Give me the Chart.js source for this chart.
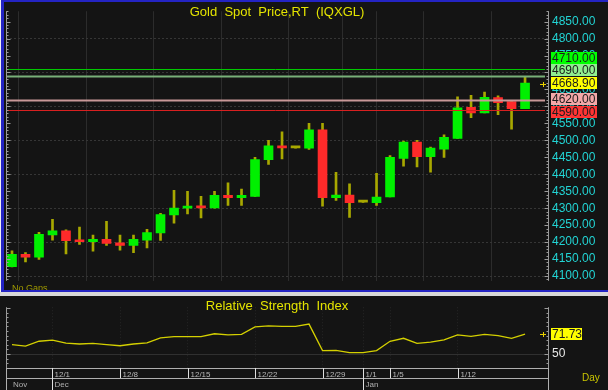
<!DOCTYPE html>
<html>
<head>
<meta charset="utf-8">
<script src="https://cdn.jsdelivr.net/npm/chart.js@4.4.1/dist/chart.umd.min.js"></script>
<style>
body { margin: 0; background: #d8d8d8; }
#wrap { position: relative; width: 608px; height: 390px; overflow: hidden; }
#priceChart { position: absolute; left: 0; top: 0; }
#rsiChart { position: absolute; left: 0; top: 296px; }
</style>
</head>
<body>
<div id="wrap">
    <canvas id="priceChart" width="608" height="292"></canvas>
    <canvas id="rsiChart" width="608" height="94"></canvas>
</div>
<script>
// daily bars, 11/26 .. 1/19
const dates = ['11/26','11/27','11/28','12/1','12/2','12/3','12/4','12/5','12/8','12/9','12/10','12/11','12/12',
    '12/15','12/16','12/17','12/18','12/19','12/22','12/23','12/24','12/25','12/26','12/29','12/30','12/31',
    '1/1','1/2','1/5','1/6','1/7','1/8','1/9','1/12','1/13','1/14','1/15','1/16','1/19'];
const opens  = [4128,4164,4156,4221,4233,4206,4201,4208,4198,4190,4206,4227,4280,4300,4306,4301,4338,4331,4335,4443,
    4484,4478,4477,4531,4331,4339,4318,4316,4333,4447,4495,4452,4474,4506,4597,4581,4626,4614,4593];
const highs  = [4174,4169,4229,4267,4236,4244,4221,4261,4221,4221,4238,4285,4353,4350,4335,4350,4375,4356,4450,4500,
    4525,4479,4550,4550,4406,4372,4319,4403,4455,4498,4500,4480,4516,4628,4633,4642,4631,4617,4686];
const lows   = [4127,4142,4149,4206,4165,4193,4173,4190,4176,4169,4183,4205,4256,4283,4271,4300,4308,4308,4335,4429,
    4445,4477,4473,4306,4323,4273,4317,4308,4333,4424,4422,4406,4450,4506,4567,4581,4576,4533,4593];
const closes = [4164,4156,4223,4233,4204,4201,4208,4196,4190,4208,4228,4281,4300,4306,4301,4338,4331,4338,4443,4484,
    4478,4478,4531,4331,4339,4316,4318,4333,4450,4495,4452,4477,4509,4596,4581,4627,4611,4593,4668.9];
const rsi = [60.2,58.7,63.9,65.2,61.8,60.9,61.5,60.2,59.0,60.9,62.1,67.6,68.9,68.9,68.9,72.0,70.8,71.4,79.4,80.6,
    80.1,80.1,82.5,53.7,54.1,51.6,51.6,53.7,63.9,67.1,61.5,63.0,65.5,70.8,69.2,71.4,70.1,67.1,71.73];

const priceTicks = [4100,4150,4200,4250,4300,4350,4400,4450,4500,4550,4600,4650,4700,4750,4800,4850];
const rsiTicks = [50];
const dateTicks = ['12/1','12/8','12/15','12/22','12/29','1/1','1/5','1/12'];
const months = ['Nov','Dec','Jan'];
const monthStarts = ['11/26','12/1','1/1'];

// horizontal level lines and their price tags
const levels      = [4710, 4690, 4620, 4590];
const levelLines  = ['#00c800', '#78b078', '#c89898', '#d82020'];
const levelBoxes  = ['#00ff00', '#90ee90', '#f4a8a8', '#ff3434'];

const BG = '#141414';
const CYAN = '#22d4d4';
const YELLOW = '#e4e400';
const WICK = '#a8a800';
const FONT = 'Arial, "Liberation Sans", sans-serif';

Chart.defaults.font.family = FONT;

const X_MIN = -0.444, X_MAX = 39.7;

function bodyColor(i) {
    if (closes[i] > opens[i]) return '#00f000';
    if (closes[i] < opens[i]) return '#ff2a2a';
    return WICK;
}

function xTicks(scale) {
    scale.ticks = dateTicks.map(d => ({ value: dates.indexOf(d) }));
}

function ruler(ctx, x, top, bottom, step, bigEvery, scale, from, to) {
    ctx.strokeStyle = '#9a9a9a';
    ctx.lineWidth = 1;
    ctx.beginPath();
    ctx.moveTo(x + 0.5, top);
    ctx.lineTo(x + 0.5, bottom);
    for (let v = from; v <= to; v += step) {
        const y = Math.round(scale.getPixelForValue(v)) + 0.5;
        if (y < top || y > bottom) continue;
        const len = (Math.round(v) % bigEvery === 0) ? 4 : 2;
        ctx.moveTo(x + 0.5, y);
        ctx.lineTo(x + 0.5 + len * (x < 100 ? 1 : -1), y);
    }
    ctx.stroke();
}

function marker(ctx, x, y) {
    ctx.strokeStyle = '#e8d000';
    ctx.lineWidth = 1;
    ctx.beginPath();
    ctx.moveTo(x - 3, y + 0.5); ctx.lineTo(x + 3, y + 0.5);
    ctx.moveTo(x + 0.5, y - 2); ctx.lineTo(x + 0.5, y + 3);
    ctx.stroke();
}

const priceDecor = {
    id: 'priceDecor',
    beforeDraw(chart) {
        const ctx = chart.ctx;
        ctx.save();
        ctx.fillStyle = BG;
        ctx.fillRect(0, 0, chart.width, chart.height);
        ctx.restore();
    },
    afterDatasetsDraw(chart) {
        const ctx = chart.ctx, area = chart.chartArea, y = chart.scales.y;
        ctx.save();
        levels.forEach((lv, i) => {
            const py = Math.round(y.getPixelForValue(lv)) + 0.5;
            ctx.strokeStyle = levelLines[i];
            ctx.lineWidth = (i === 1 || i === 2) ? 2 : 1;
            ctx.beginPath();
            ctx.moveTo(area.left, py);
            ctx.lineTo(area.right - 3, py);
            ctx.stroke();
        });
        ctx.restore();
    },
    afterDraw(chart) {
        const ctx = chart.ctx, area = chart.chartArea, y = chart.scales.y;
        ctx.save();
        // title
        ctx.fillStyle = YELLOW;
        ctx.font = '13px ' + FONT;
        ctx.textAlign = 'center';
        ctx.textBaseline = 'alphabetic';
        ctx.fillText('Gold  Spot  Price,RT  (IQXGL)', (area.left + area.right) / 2, 15.5);

        // No Gaps
        ctx.fillStyle = '#a09a00';
        ctx.font = '9px ' + FONT;
        ctx.textAlign = 'left';
        ctx.fillText('No Gaps', 12, 291);

        // rulers
        ruler(ctx, area.left, area.top, area.bottom, 10, 50, y, 4080, 4880);
        ruler(ctx, area.right, area.top, area.bottom, 10, 50, y, 4080, 4880);

        // price tags, stacked around the last price
        const last = closes[closes.length - 1];
        const tags = levels.map((lv, i) => ({ v: lv, c: levelBoxes[i], t: lv.toFixed(2) }));
        tags.push({ v: last, c: '#ffff00', t: last.toFixed(2), anchor: true });
        tags.forEach(t => t.y = y.getPixelForValue(t.v));
        tags.sort((a, b) => a.y - b.y);
        const H = 12.4;
        const a = tags.findIndex(t => t.anchor);
        for (let j = a - 1; j >= 0; j--) tags[j].y = Math.min(tags[j].y, tags[j + 1].y - H);
        for (let j = a + 1; j < tags.length; j++) tags[j].y = Math.max(tags[j].y, tags[j - 1].y + H);
        ctx.font = '12px ' + FONT;
        ctx.textBaseline = 'middle';
        tags.forEach(t => {
            ctx.fillStyle = t.c;
            ctx.fillRect(551, Math.round(t.y - H / 2), 46, Math.round(H));
            ctx.fillStyle = '#1c1c1c';
            ctx.fillText(t.t, 552, t.y + 0.5);
        });
        marker(ctx, 543, Math.round(y.getPixelForValue(last)) + 1);

        // frame
        ctx.fillStyle = '#2424c4';
        ctx.fillRect(0, 0, chart.width, 2);
        ctx.fillRect(1, 0, 3, chart.height);
        ctx.fillRect(0, chart.height - 2, chart.width, 2);
        ctx.fillStyle = '#f0f0f0';
        ctx.fillRect(0, 0, 1, chart.height);
        ctx.restore();
    }
};

new Chart(document.getElementById('priceChart'), {
    type: 'bar',
    data: {
        datasets: [{
            label: 'Range',
            data: dates.map((d, i) => ({ x: i, y: [lows[i], highs[i]] })),
            backgroundColor: WICK,
            barThickness: 2,
            grouped: false,
            order: 2
        }, {
            label: 'Body',
            data: dates.map((d, i) => ({ x: i, y: [opens[i], closes[i]] })),
            backgroundColor: dates.map((d, i) => bodyColor(i)),
            barThickness: 9,
            minBarLength: 2,
            grouped: false,
            order: 1
        }]
    },
    options: {
        responsive: false,
        animation: false,
        layout: { padding: { left: 6, top: 4, right: 0, bottom: 2 } },
        plugins: { legend: { display: false }, tooltip: { enabled: false } },
        scales: {
            x: {
                type: 'linear',
                min: X_MIN,
                max: X_MAX,
                offset: false,
                afterBuildTicks: xTicks,
                ticks: { display: false },
                grid: { color: '#2c2c2c', drawTicks: false },
                border: { display: false }
            },
            y: {
                position: 'right',
                min: 4086,
                max: 4880.6,
                afterBuildTicks: s => { s.ticks = priceTicks.map(v => ({ value: v })); },
                afterFit: s => { s.width = 60; },
                ticks: {
                    color: CYAN,
                    font: { size: 12 },
                    padding: 4,
                    autoSkip: false,
                    callback: v => Number(v).toFixed(2)
                },
                grid: {
                    color: c => c.tick && c.tick.value % 100 === 0 ? '#363636' : 'rgba(0,0,0,0)',
                    drawTicks: false
                },
                border: { display: false, dash: [2, 2] }
            }
        }
    },
    plugins: [priceDecor]
});

const rsiDecor = {
    id: 'rsiDecor',
    beforeDraw(chart) {
        const ctx = chart.ctx;
        ctx.save();
        ctx.fillStyle = BG;
        ctx.fillRect(0, 0, chart.width, chart.height);
        ctx.restore();
    },
    afterDraw(chart) {
        const ctx = chart.ctx, area = chart.chartArea, x = chart.scales.x, y = chart.scales.y;
        ctx.save();
        ctx.fillStyle = YELLOW;
        ctx.font = '13px ' + FONT;
        ctx.textAlign = 'center';
        ctx.fillText('Relative  Strength  Index', (area.left + area.right) / 2, 14);

        ruler(ctx, area.left, area.top, area.bottom, 5, 50, y, 35, 100);
        ruler(ctx, area.right, area.top, area.bottom, 5, 50, y, 35, 100);

        // last value tag
        const last = rsi[rsi.length - 1];
        const ly = y.getPixelForValue(last);
        ctx.fillStyle = '#ffff00';
        ctx.fillRect(551, Math.round(ly - 6), 31, 12);
        ctx.fillStyle = '#1c1c1c';
        ctx.font = '12px ' + FONT;
        ctx.textAlign = 'left';
        ctx.textBaseline = 'middle';
        ctx.fillText(last.toFixed(2), 552, ly + 0.5);
        marker(ctx, 543, Math.round(ly));

        // date rows
        const r1 = area.bottom, r2 = area.bottom + 10;
        ctx.strokeStyle = '#b0b0b0';
        ctx.lineWidth = 1;
        ctx.beginPath();
        ctx.moveTo(area.left, r1 + 0.5); ctx.lineTo(area.right, r1 + 0.5);
        ctx.moveTo(area.left, r2 + 0.5); ctx.lineTo(area.right, r2 + 0.5);
        ctx.moveTo(area.right + 0.5, r1); ctx.lineTo(area.right + 0.5, chart.height);
        ctx.moveTo(area.left + 0.5, r1); ctx.lineTo(area.left + 0.5, chart.height);
        ctx.stroke();

        ctx.font = '8px ' + FONT;
        ctx.textBaseline = 'alphabetic';
        ctx.strokeStyle = '#e0e0e0';
        dateTicks.forEach(d => {
            const px = Math.round(x.getPixelForValue(dates.indexOf(d))) + 0.5;
            ctx.beginPath();
            ctx.moveTo(px, r1); ctx.lineTo(px, r2);
            ctx.stroke();
            ctx.fillStyle = '#b8b8b8';
            ctx.fillText(d, px + 2, r2 - 1);
        });
        months.forEach((m, i) => {
            const idx = dates.indexOf(monthStarts[i]);
            const px = Math.round(x.getPixelForValue(idx)) + 0.5;
            if (i > 0) {
                ctx.beginPath();
                ctx.moveTo(px, r2); ctx.lineTo(px, chart.height);
                ctx.stroke();
            }
            ctx.fillStyle = '#b0b0b0';
            ctx.fillText(m, i > 0 ? px + 2 : 13, chart.height - 3);
        });

        ctx.fillStyle = '#c8c400';
        ctx.font = '10px ' + FONT;
        ctx.fillText('Day', 582, 85);
        ctx.restore();
    }
};

new Chart(document.getElementById('rsiChart'), {
    type: 'line',
    data: {
        datasets: [{
            label: 'RSI',
            data: rsi.map((v, i) => ({ x: i, y: v })),
            borderColor: '#d4d000',
            borderWidth: 1.3,
            pointRadius: 0,
            tension: 0
        }]
    },
    options: {
        responsive: false,
        animation: false,
        layout: { padding: { left: 6, top: 1, right: 0, bottom: 22 } },
        plugins: { legend: { display: false }, tooltip: { enabled: false } },
        scales: {
            x: {
                type: 'linear',
                min: X_MIN,
                max: X_MAX,
                offset: false,
                afterBuildTicks: xTicks,
                ticks: { display: false },
                grid: { color: '#262626', drawTicks: false },
                border: { display: false, dash: [1, 2] }
            },
            y: {
                position: 'right',
                min: 34.9,
                max: 100.8,
                afterBuildTicks: s => { s.ticks = rsiTicks.map(v => ({ value: v })); },
                afterFit: s => { s.width = 60; },
                ticks: { color: '#e8e8e8', font: { size: 12 }, padding: 4 },
                grid: { color: '#303030', drawTicks: false },
                border: { display: false }
            }
        }
    },
    plugins: [rsiDecor]
});
</script>
</body>
</html>
